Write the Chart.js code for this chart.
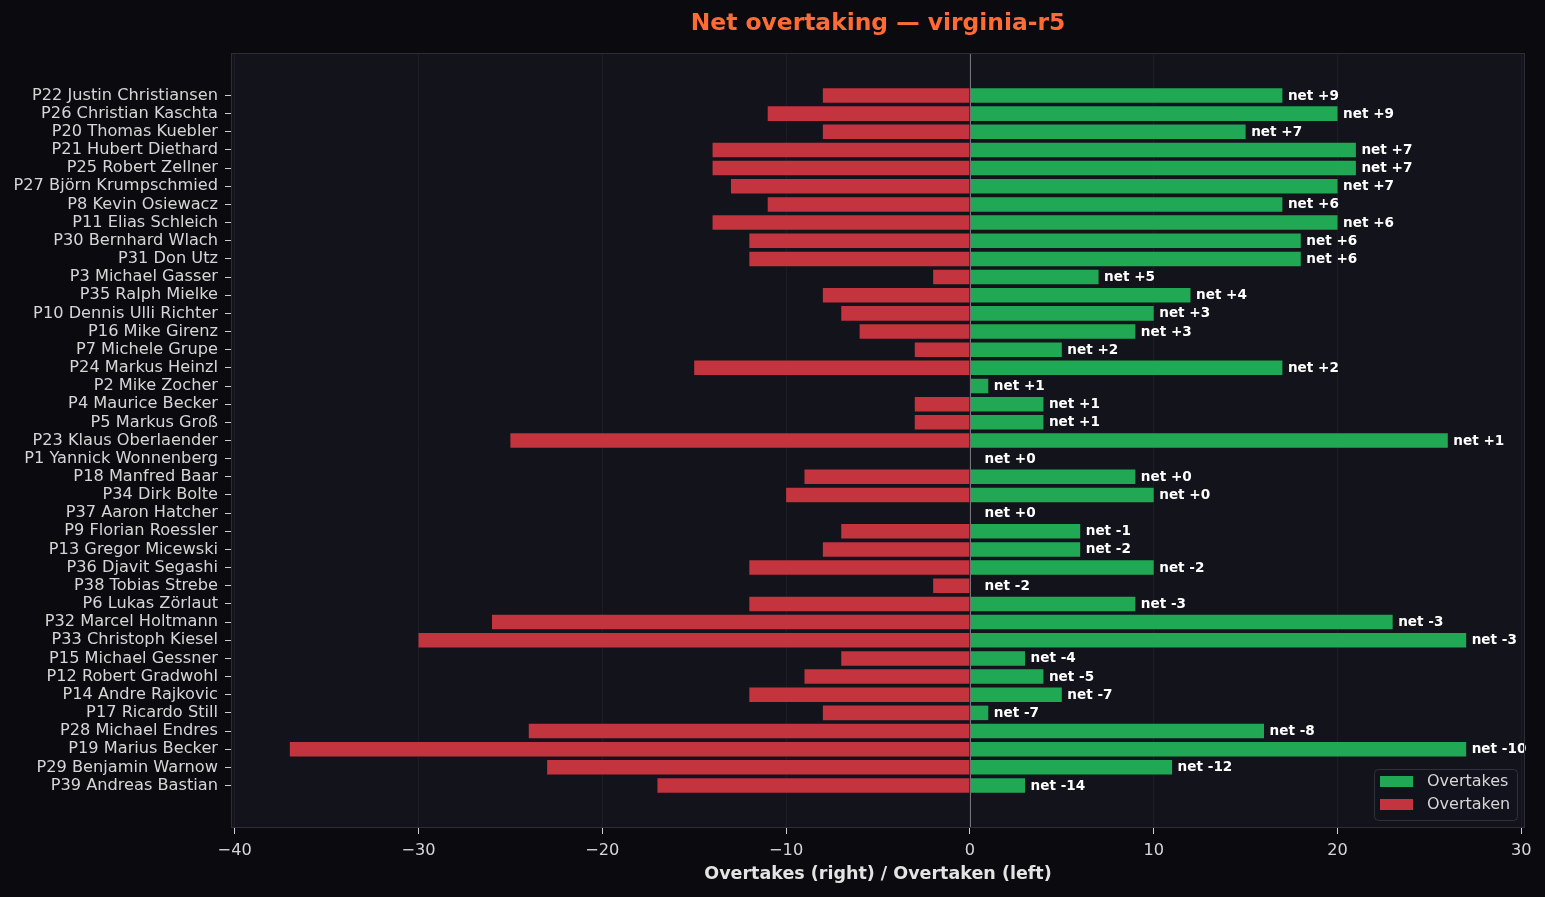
<!DOCTYPE html>
<html>
<head>
<meta charset="utf-8">
<title>Net overtaking — virginia-r5</title>
<script src="https://cdn.jsdelivr.net/npm/chart.js@4.4.1/dist/chart.umd.min.js"></script>
<style>
  html, body { margin: 0; padding: 0; background: #0b0b0f; }
  #wrap { width: 1545px; height: 897px; }
</style>
</head>
<body>
<div id="wrap"><canvas id="chart"></canvas></div>
<script>
const drivers = [
  'P22 Justin Christiansen', 'P26 Christian Kaschta', 'P20 Thomas Kuebler', 'P21 Hubert Diethard',
  'P25 Robert Zellner', 'P27 Björn Krumpschmied', 'P8 Kevin Osiewacz', 'P11 Elias Schleich',
  'P30 Bernhard Wlach', 'P31 Don Utz', 'P3 Michael Gasser', 'P35 Ralph Mielke',
  'P10 Dennis Ulli Richter', 'P16 Mike Girenz', 'P7 Michele Grupe', 'P24 Markus Heinzl',
  'P2 Mike Zocher', 'P4 Maurice Becker', 'P5 Markus Groß', 'P23 Klaus Oberlaender',
  'P1 Yannick Wonnenberg', 'P18 Manfred Baar', 'P34 Dirk Bolte', 'P37 Aaron Hatcher',
  'P9 Florian Roessler', 'P13 Gregor Micewski', 'P36 Djavit Segashi', 'P38 Tobias Strebe',
  'P6 Lukas Zörlaut', 'P32 Marcel Holtmann', 'P33 Christoph Kiesel', 'P15 Michael Gessner',
  'P12 Robert Gradwohl', 'P14 Andre Rajkovic', 'P17 Ricardo Still', 'P28 Michael Endres',
  'P19 Marius Becker', 'P29 Benjamin Warnow', 'P39 Andreas Bastian'
];
const overtakes = [17, 20, 15, 21, 21, 20, 17, 20, 18, 18, 7, 12, 10, 9, 5, 17, 1, 4, 4, 26,
  0, 9, 10, 0, 6, 6, 10, 0, 9, 23, 27, 3, 4, 5, 1, 16, 27, 11, 3];
const overtaken = [-8, -11, -8, -14, -14, -13, -11, -14, -12, -12, -2, -8, -7, -6, -3, -15, 0, -3, -3, -25,
  0, -9, -10, 0, -7, -8, -12, -2, -12, -26, -30, -7, -9, -12, -8, -24, -37, -23, -17];
const xTicks = [-40, -30, -20, -10, 0, 10, 20, 30];

const GREEN = '#21a855';
const RED = '#c4343f';
const TEXT = '#d6d6d6';
const FONT = "'DejaVu Sans', sans-serif";

// background, zero line, net labels, frame and legend
const decor = {
  id: 'decor',
  beforeDraw(chart) {
    const { ctx, chartArea: a } = chart;
    ctx.save();
    ctx.fillStyle = '#0b0b0f';
    ctx.fillRect(0, 0, chart.width, chart.height);
    ctx.fillStyle = '#12131b';
    ctx.fillRect(a.left, a.top, a.width, a.height);
    ctx.restore();
  },
  afterDatasetsDraw(chart) {
    const { ctx, chartArea: a, scales: { x, y } } = chart;
    ctx.save();
    const x0 = Math.round(x.getPixelForValue(0)) + 0.5;
    ctx.strokeStyle = '#74747c';
    ctx.lineWidth = 1;
    ctx.beginPath();
    ctx.moveTo(x0, a.top);
    ctx.lineTo(x0, a.bottom);
    ctx.stroke();

    ctx.font = 'bold 13.6px ' + FONT;
    ctx.fillStyle = '#ffffff';
    ctx.textAlign = 'left';
    ctx.textBaseline = 'middle';
    drivers.forEach((d, i) => {
      const net = overtakes[i] + overtaken[i];
      const txt = 'net ' + (net >= 0 ? '+' : '') + net;
      const px = x.getPixelForValue(Math.max(overtakes[i], 0.5) + 0.3);
      ctx.fillText(txt, px, y.getPixelForValue(i) + 0.5);
    });
    ctx.restore();
  },
  afterDraw(chart) {
    const { ctx, chartArea: a } = chart;
    ctx.save();
    ctx.strokeStyle = '#2c2d36';
    ctx.lineWidth = 1;
    ctx.strokeRect(Math.round(a.left) + 0.5, Math.round(a.top) + 0.5,
      Math.round(a.width) - 1, Math.round(a.height) - 1);

    // legend box, lower right
    const bw = 143, bh = 51;
    const bx = a.right - 8 - bw, by = a.bottom - 8 - bh;
    ctx.fillStyle = 'rgba(18,19,27,0.85)';
    ctx.strokeStyle = '#30313b';
    ctx.beginPath();
    ctx.roundRect(bx + 0.5, by + 0.5, bw, bh, 4);
    ctx.fill();
    ctx.stroke();
    ctx.font = '16px ' + FONT;
    ctx.textBaseline = 'middle';
    ctx.textAlign = 'left';
    chart.data.datasets.forEach((ds, i) => {
      const ry = by + 7 + i * 23;
      ctx.fillStyle = ds.backgroundColor;
      ctx.fillRect(bx + 6, ry, 33, 11);
      ctx.fillStyle = TEXT;
      ctx.fillText(ds.label, bx + 53, ry + 6);
    });
    ctx.restore();
  }
};

new Chart(document.getElementById('chart'), {
  type: 'bar',
  data: {
    datasets: [
      {
        label: 'Overtakes',
        data: overtakes.map((v, i) => ({ x: v, y: i })),
        backgroundColor: GREEN,
        grouped: false,
        categoryPercentage: 1,
        barPercentage: 0.8
      },
      {
        label: 'Overtaken',
        data: overtaken.map((v, i) => ({ x: v, y: i })),
        backgroundColor: RED,
        grouped: false,
        categoryPercentage: 1,
        barPercentage: 0.8
      }
    ]
  },
  options: {
    indexAxis: 'y',
    animation: false,
    responsive: true,
    maintainAspectRatio: false,
    layout: { padding: { top: 0, left: 0, right: 20, bottom: 0 } },
    plugins: {
      legend: { display: false },
      tooltip: { enabled: false },
      title: {
        display: true,
        fullSize: false,
        text: 'Net overtaking — virginia-r5',
        color: '#ff6b35',
        font: { family: FONT, size: 23.4, weight: 'bold' },
        padding: { top: 10, bottom: 14.9 }
      }
    },
    scales: {
      x: {
        type: 'linear',
        min: -40.2,
        max: 30.2,
        afterBuildTicks: (s) => { s.ticks = xTicks.map(v => ({ value: v })); },
        afterFit: (s) => { s.height = 69; },
        border: { display: false },
        grid: {
          color: '#1b1c25',
          lineWidth: 1,
          drawTicks: true,
          tickLength: 6,
          tickColor: '#cfcfcf'
        },
        ticks: {
          color: TEXT,
          font: { family: FONT, size: 16.2 },
          padding: 7,
          callback: (v) => (v < 0 ? '\u2212' + Math.abs(v) : String(v))
        },
        title: {
          display: true,
          text: 'Overtakes (right) / Overtaken (left)',
          color: '#e4e4e4',
          font: { family: FONT, size: 17.5, weight: 'bold' },
          padding: { top: 0, bottom: 12 }
        }
      },
      y: {
        type: 'linear',
        reverse: true,
        offset: false,
        min: -2.34,
        max: 40.34,
        afterBuildTicks: (s) => { s.ticks = drivers.map((d, i) => ({ value: i })); },
        afterFit: (s) => { s.width = 231; },
        border: { display: false },
        grid: {
          offset: false,
          drawOnChartArea: false,
          drawTicks: true,
          tickLength: 6,
          tickColor: '#cfcfcf'
        },
        ticks: {
          color: TEXT,
          font: { family: FONT, size: 16.2 },
          padding: 7,
          autoSkip: false,
          callback: (v) => drivers[v]
        }
      }
    }
  },
  plugins: [decor]
});
</script>
</body>
</html>
